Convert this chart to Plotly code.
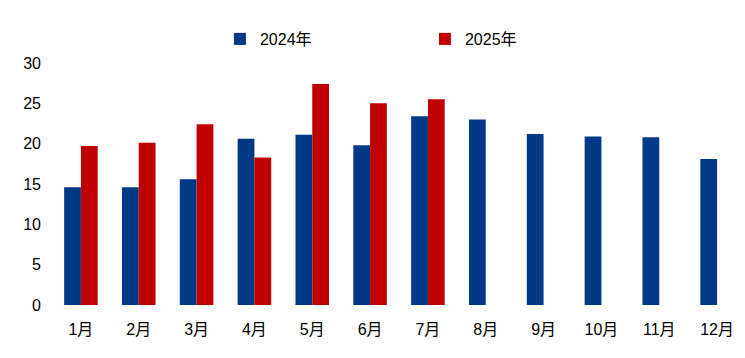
import plotly.graph_objects as go

months = ["1月", "2月", "3月", "4月", "5月", "6月", "7月", "8月", "9月", "10月", "11月", "12月"]
y2024 = [14.6, 14.6, 15.6, 20.6, 21.1, 19.8, 23.4, 23.0, 21.2, 20.9, 20.8, 18.1]
y2025 = [19.7, 20.1, 22.4, 18.3, 27.4, 25.0, 25.5, None, None, None, None, None]
yticks = [0, 5, 10, 15, 20, 25, 30]

font_family = "Liberation Sans, Arial, Noto Sans CJK SC, sans-serif"

fig = go.Figure()
fig.add_trace(go.Bar(x=months, y=y2024, name="2024年", marker_color="#003A86",
                     marker_line_width=0))
fig.add_trace(go.Bar(x=months, y=y2025, name="2025年", marker_color="#C00000",
                     marker_line_width=0))

fig.update_layout(
    width=745, height=358,
    margin=dict(l=44, r=7, t=55, b=61, autoexpand=False),
    paper_bgcolor="white", plot_bgcolor="white",
    barmode="group", bargap=0.42, bargroupgap=0,
    font=dict(family=font_family, size=16, color="#000000"),
    legend=dict(orientation="h", x=0.242, xanchor="left",
                y=1 - 31 / 358, yanchor="middle", yref="container",
                entrywidth=160, entrywidthmode="pixels",
                font=dict(size=16), itemwidth=30),
    showlegend=True,
)
fig.update_xaxes(showline=False, showgrid=False, ticks="", tickfont=dict(size=16),
                 automargin=False, ticklabelstandoff=13)
fig.update_yaxes(range=[0, 30], tickvals=yticks, showgrid=False, showline=False,
                 zeroline=False, ticks="", tickfont=dict(size=16), ticklabelstandoff=10,
                 automargin=False)

fig.write_html("out.html")
